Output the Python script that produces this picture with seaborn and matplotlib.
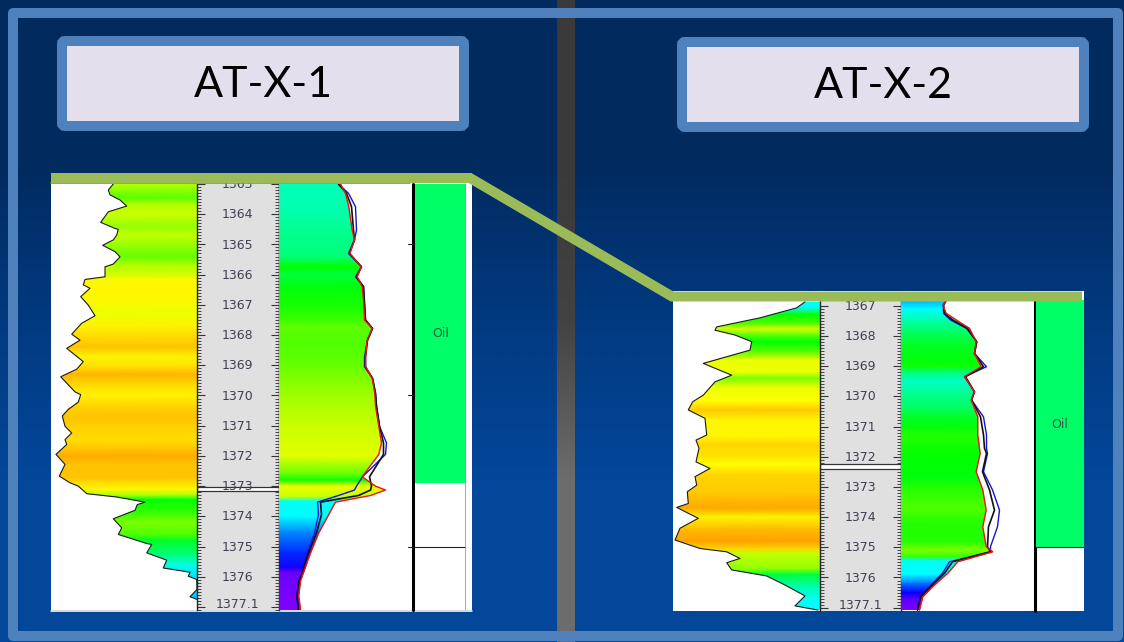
import numpy as np
import matplotlib
matplotlib.use("Agg")
import matplotlib.pyplot as plt
from matplotlib.colors import LinearSegmentedColormap
from matplotlib.patches import Polygon, Rectangle, FancyBboxPatch
import seaborn as sns

W, H = 1124, 642

# ---- AT-X-1, left curve
w1_gr_depth = [1363.0, 1363.2, 1363.36, 1363.53, 1363.73, 1363.92, 1364.27, 1364.47, 1364.5, 1364.69, 1364.85,
               1365.03, 1365.24, 1365.41, 1365.65, 1365.74, 1366.07, 1366.16, 1366.34, 1366.45, 1366.73, 1367.01,
               1367.36, 1367.61, 1367.97, 1368.17, 1368.44, 1368.88, 1369.13, 1369.38, 1369.88, 1369.97, 1370.22,
               1370.46, 1370.68, 1371.02, 1371.24, 1371.46, 1371.62, 1371.95, 1372.28, 1372.67, 1372.89, 1373.0,
               1373.25, 1373.36, 1373.53, 1373.61, 1373.8, 1374.08, 1374.38, 1374.6, 1374.9, 1374.93, 1375.21,
               1375.45, 1375.71, 1375.85, 1375.98, 1376.09, 1376.42, 1376.66, 1376.75]
w1_gr = [62.3, 57.3, 59, 69, 75.7, 57.3, 49.7, 64, 67.3, 65.7, 62.3,
         51.7, 64, 69, 62.3, 54, 54, 34, 32.3, 39, 29.7, 37.3,
         44, 30.7, 20.7, 29, 15.7, 32.3, 25.7, 9.7, 24, 29.7, 27.3,
         17.3, 11.3, 14, 20.7, 14, 15.7, 5, 14, 8.3, 19, 27.3,
         35.7, 65.7, 94, 86.3, 84, 62.3, 70.7, 67.3, 95.7, 100.7, 95.7,
         115.7, 112.3, 139, 137.3, 145.7, 146, 139, 146]
w1_gr_band_depth = [1363, 1363.45, 1363.7, 1364.0, 1364.4, 1364.7, 1365.4, 1365.7, 1366.05, 1366.15, 1366.8, 1367.3,
                    1367.7, 1368.0, 1368.4, 1368.7, 1369.0, 1369.3, 1369.6, 1370.0, 1370.4, 1370.7, 1371.2, 1371.5,
                    1372.0, 1372.3, 1372.7, 1373.1, 1373.3, 1373.45, 1373.9, 1374.2, 1374.6, 1374.8, 1375.3, 1375.6,
                    1376.0, 1376.7, 1377.1]
w1_gr_band = [.71, .63, .71, .73, .68, .72, .64, .71, .74, .79, .79, .76,
              .80, .83, .87, .80, .82, .89, .84, .80, .85, .87, .84, .83,
              .91, .87, .87, .79, .70, .55, .60, .66, .62, .52, .45, .34,
              .28, .26, .26]

# ---- AT-X-1, right curves
w1_res_depth = [1363.0, 1363.31, 1363.75, 1364.52, 1364.85, 1365.3, 1365.74, 1366.07, 1366.4, 1366.95, 1367.5,
                1367.78, 1368.17, 1368.72, 1369.05, 1369.43, 1369.93, 1370.35, 1371.02, 1371.57, 1371.95, 1372.69,
                1373.0, 1373.13, 1373.31, 1373.53, 1373.94, 1374.55, 1375.21, 1375.76, 1376.15, 1376.64, 1377.09]
w1_red = [62, 67, 70.3, 73.7, 76, 71.3, 82.7, 78.7, 83.7, 85.3, 86,
          93.7, 88.7, 87, 87, 93.7, 96.3, 97, 100.3, 103, 100.3, 83.7,
          97, 107, 92, 57, 50.3, 40.3, 32, 26, 22, 20.3, 22]
w1_black = [60, 68, 73, 75, 76, 71, 83, 78, 85, 86, 87,
            94, 89, 87, 87, 94, 97, 98, 101, 105, 105, 91,
            93, 92, 80, 42, 43, 38, 30, 25, 20.5, 18.5, 20]
w1_blue = [60, 70, 77, 78, 76, 70, 83, 77, 85, 86, 87,
           94, 89, 86, 86, 94, 97, 98, 101, 108, 107, 84,
           78, 76, 60, 39, 40, 36, 29, 24.5, 20, 18, 20]
w1_res_band_depth = [1363, 1364, 1364.5, 1365.4, 1365.74, 1366.0, 1366.4, 1367.0, 1367.5, 1367.7, 1368.3, 1369.0,
                     1370.0, 1371.0, 1372.0, 1372.6, 1372.8, 1373.0, 1373.35, 1373.5, 1374.0, 1374.5, 1375.2,
                     1375.7, 1375.85, 1377.1]
w1_res_band = [.40, .42, .44, .46, .55, .50, .54, .57, .60, .63, .62, .64,
               .69, .73, .75, .64, .56, .76, .73, .32, .30, .22, .15,
               .10, .02, 0]

# ---- AT-X-2, left curve
w2_gr_depth = [1366.87, 1367.07, 1367.4, 1367.7, 1367.81, 1367.97, 1368.19, 1368.47, 1368.91, 1369.3, 1369.52,
               1369.96, 1370.18, 1370.45, 1370.73, 1371.28, 1371.45, 1371.72, 1372.17, 1372.39, 1372.66, 1372.94,
               1373.16, 1373.55, 1373.68, 1374.04, 1374.37, 1374.76, 1375.04, 1375.15, 1375.37, 1375.51, 1375.75,
               1375.95, 1376.25, 1376.61, 1376.94, 1377.08]
w2_gr = [132, 123.7, 87, 43.7, 42, 62, 78.7, 77, 30.3, 58.7, 42,
         30.3, 19.7, 15.3, 32, 33.7, 23, 26, 23, 37, 22, 23.7,
         14.3, 15.3, 3.7, 25.3, 7, 2, 27, 53.7, 67, 53.7, 58.7,
         93.7, 112, 132, 122, 145]
w2_gr_band_depth = [1366.8, 1367.05, 1367.3, 1367.6, 1367.75, 1368.0, 1368.2, 1368.5, 1368.8, 1369.2, 1369.4, 1369.7,
                    1370.15, 1370.45, 1370.8, 1371.3, 1371.6, 1372.0, 1372.25, 1372.6, 1373.2, 1373.7, 1374.0,
                    1374.4, 1374.8, 1375.05, 1375.2, 1375.7, 1375.9, 1376.3, 1376.7, 1377.1]
w2_gr_band = [.32, .30, .55, .62, .74, .62, .55, .62, .76, .76, .66, .76,
              .78, .86, .79, .79, .84, .82, .78, .84, .86, .92, .80,
              .88, .94, .84, .72, .68, .50, .42, .32, .30]

# ---- AT-X-2, right curves
w2_res_depth = [1366.8, 1366.98, 1367.25, 1367.47, 1367.75, 1368.19, 1368.58, 1369.02, 1369.35, 1369.85, 1370.12,
                1370.68, 1371.28, 1371.72, 1371.89, 1372.5, 1373.1, 1373.77, 1374.32, 1374.98, 1375.15, 1375.48,
                1375.86, 1376.3, 1376.64, 1377.08]
w2_red = [47, 42.3, 45.7, 55.7, 69, 75.7, 74, 80.7, 64, 74, 70.7,
          77.3, 77.3, 79, 79.7, 75.7, 82.3, 85.7, 82.3, 85.7, 92.3, 57.3,
          47.3, 32.3, 22.3, 19]
w2_black = [46, 43, 44, 52, 67, 76, 74, 83, 65, 74, 71,
            80, 83, 84, 86, 82, 89, 94, 88, 87, 90, 52,
            44, 30, 20, 17]
w2_blue = [46, 43, 43, 50, 66, 76.5, 74, 86, 64, 74, 71,
           83, 86, 86, 87, 83, 92, 99, 97, 90, 90, 49,
           42, 29, 20, 17]
w2_res_band_depth = [1366.8, 1367.1, 1367.5, 1367.9, 1368.3, 1368.8, 1369.0, 1369.2, 1369.5, 1369.9, 1370.4, 1370.7,
                     1371.0, 1371.3, 1371.7, 1372.0, 1372.7, 1373.0, 1373.7, 1374.2, 1374.8, 1375.1, 1375.3,
                     1375.45, 1375.9, 1376.2, 1376.5, 1376.7, 1377.1]
w2_res_band = [.24, .30, .42, .48, .52, .54, .56, .46, .38, .44, .48, .52,
               .54, .58, .56, .55, .54, .58, .62, .58, .58, .66, .60,
               .32, .30, .20, .12, .04, 0]

w1_labels = ["1363", "1364", "1365", "1366", "1367", "1368", "1369", "1370", "1371", "1372", "1373", "1374", "1375", "1376"]
w2_labels = ["1367", "1368", "1369", "1370", "1371", "1372", "1373", "1374", "1375", "1376"]

sns.set_theme(style="white")
plt.rcParams["font.family"] = ["DejaVu Sans"]

log_cmap = LinearSegmentedColormap.from_list("log", [
    (0.0, "#8000ff"), (0.12, "#0000ff"), (0.3, "#00ffff"), (0.42, "#00ffaa"), (0.55, "#00ff00"),
    (0.7, "#aaff00"), (0.78, "#ffff00"), (0.9, "#ffb000"), (1.0, "#ff8c00")])


def px_axes(fig, x0, y0, x1, y1, zorder=2):
    ax = fig.add_axes([x0 / W, 1 - y1 / H, (x1 - x0) / W, (y1 - y0) / H], zorder=zorder)
    ax.patch.set_alpha(0)
    return ax


def track(fig, box, ylim, xlim):
    ax = px_axes(fig, *box)
    ax.set_ylim(*ylim)
    ax.set_xlim(*xlim)
    ax.set_xticks([])
    ax.set_yticks([])
    for s in ax.spines.values():
        s.set_visible(False)
    return ax


def filled_band(ax, band_depth, band, x0, x1, curve_x, curve_d, base):
    v = np.column_stack([band, band])
    mesh = ax.pcolormesh([x0, x1], band_depth, v, shading="gouraud", cmap=log_cmap, vmin=0, vmax=1)
    pts = [(base, curve_d[0])] + list(zip(curve_x, curve_d)) + [(base, curve_d[-1])]
    mesh.set_clip_path(Polygon(pts, closed=True, transform=ax.transData))


def curve(ax, x, d, color, lw=0.8):
    sns.lineplot(x=x, y=d, orient="y", sort=False, estimator=None, color=color, linewidth=lw, ax=ax)
    ax.set_xlabel("")
    ax.set_ylabel("")


def draw_well(fig, x, ylim, gr_d, gr, gr_band_d, gr_band, res_d, red, black, blue, res_band_d, res_band,
              labels, sep, oil_bottom, oil_y, last_label_depth, top_px, bottom_px):
    # left curve
    ax = track(fig, (x[0], top_px, x[1], bottom_px), ylim, (0, x[1] - x[0]))
    filled_band(ax, gr_band_d, gr_band, 0, x[1] - x[0], gr, gr_d, x[1] - x[0])
    curve(ax, gr, gr_d, "#1a1a1a")
    ax.set_ylim(*ylim)
    ax.set_xlim(0, x[1] - x[0])

    # depth column
    ax = track(fig, (x[1], top_px, x[2], bottom_px), ylim, (0, 1))
    ax.patch.set_alpha(1)
    ax.patch.set_facecolor("#e0e0e0")
    for side in ["left", "right"]:
        ax.spines[side].set_visible(True)
        ax.spines[side].set_color("#222222")
        ax.spines[side].set_linewidth(1.0)
    first = int(np.ceil(ylim[1]))
    last = int(np.floor(ylim[0]))
    ax.set_yticks(np.arange(first, last + 1))
    ax.set_yticks(np.arange(first, last + 0.95, 0.1), minor=True)
    ax.tick_params(axis="y", which="major", direction="in", left=True, right=True, length=5.5, width=0.8,
                   color="#333333", labelleft=False)
    ax.tick_params(axis="y", which="minor", direction="in", left=True, right=True, length=2.6, width=0.7,
                   color="#444444", labelleft=False)
    for lab in labels:
        ax.text(0.5, float(lab) + 0.02, lab, ha="center", va="center", fontsize=9, color="#3f3f55")
    ax.text(0.5, last_label_depth, "1377.1", ha="center", va="center", fontsize=9, color="#3f3f55")
    ax.axhspan(sep[0], sep[1], facecolor="white", edgecolor="#333333", linewidth=0.9)
    ax.set_ylim(*ylim)

    # right curves
    width = x[3] - x[2]
    ax = track(fig, (x[2], top_px, x[3], bottom_px), ylim, (0, width))
    filled_band(ax, res_band_d, res_band, 0, width, red, res_d, 0)
    curve(ax, blue, res_d, "#1414d8", 1.0)
    curve(ax, black, res_d, "#111111", 1.2)
    curve(ax, red, res_d, "#ee1111", 1.0)
    ax.set_ylim(*ylim)
    ax.set_xlim(0, width)
    ax.axvline(width, color="black", linewidth=2.2, clip_on=False)

    # oil column
    ax = track(fig, (x[4], top_px, x[5], bottom_px), ylim, (0, 1))
    ax.axhspan(ylim[1], oil_bottom, color="#00ff66", linewidth=0)
    ax.text(0.5, oil_y, "Oil", ha="center", va="center", fontsize=9, color="#2c5f40")
    ax.set_ylim(*ylim)
    ax.set_xlim(0, 1)
    return ax


fig = plt.figure(figsize=(W / 100, H / 100), dpi=100)

# background in pixel coordinates
bg = px_axes(fig, 0, 0, W, H, zorder=0)
bg.patch.set_alpha(1)
bg.axis("off")
sky = LinearSegmentedColormap.from_list("sky", ["#012a5e", "#023a80", "#03479a"])
bg.imshow([[0], [1]], extent=(0, W, H, 0), aspect="auto", cmap=sky, interpolation="bilinear", zorder=0)
bar = LinearSegmentedColormap.from_list("bar", ["#3a3a3a", "#424242", "#6c6c6c"])
bg.imshow([[0], [1]], extent=(557, 575, H, 0), aspect="auto", cmap=bar, interpolation="bilinear", zorder=1)
bg.set_xlim(0, W)
bg.set_ylim(H, 0)
bg.add_patch(Rectangle((13, 13), 1105, 623, fill=False, edgecolor="#4f81bd", linewidth=7.2, joinstyle="round", zorder=2))

for box_x, box_y, name in [(57, 36, "AT-X-1"), (677, 37, "AT-X-2")]:
    bg.add_patch(FancyBboxPatch((box_x + 5, box_y + 5), 402, 85, boxstyle="round,pad=0,rounding_size=3",
                                facecolor="#e4dfec", edgecolor="#4f81bd", linewidth=7.2, zorder=3))
    bg.text(box_x + 206, box_y + 49, name, ha="center", va="center", fontsize=31, family="Lato", color="black", zorder=4)

# white log sheets
bg.add_patch(Rectangle((51, 173), 421, 439, facecolor="white", edgecolor="none", zorder=3))
bg.add_patch(Rectangle((673, 291), 411, 320, facecolor="white", edgecolor="none", zorder=3))
bg.plot([51, 472], [611, 611], color="#cfcfcf", linewidth=1.2, zorder=3)

oil1 = draw_well(fig, (51, 197, 278.5, 413, 414.5, 466), (1377.1, 1363.0), w1_gr_depth, w1_gr, w1_gr_band_depth, w1_gr_band,
                 w1_res_depth, w1_red, w1_black, w1_blue, w1_res_band_depth, w1_res_band,
                 w1_labels, (1373.02, 1373.16), 1372.9, 1367.95, 1376.92, 184, 610)
oil1.axhline(1375, color="#222222", linewidth=0.8)
oil1.axvline(1, color="#999999", linewidth=1.2)
for depth in [1365, 1370, 1375]:
    oil1.plot([-0.12, -0.03], [depth, depth], color="#222222", linewidth=0.8, clip_on=False)

oil2 = draw_well(fig, (673, 820, 900.5, 1034.5, 1036, 1084), (1377.11, 1366.81), w2_gr_depth, w2_gr, w2_gr_band_depth, w2_gr_band,
                 w2_res_depth, w2_red, w2_black, w2_blue, w2_res_band_depth, w2_res_band,
                 w2_labels, (1372.25, 1372.41), 1375.0, 1370.92, 1376.92, 300, 611)
oil2.axhline(1375, xmin=0, xmax=1, color="#222222", linewidth=0.8)

# marker line tying the two wells together
top = px_axes(fig, 0, 0, W, H, zorder=5)
top.axis("off")
top.set_xlim(0, W)
top.set_ylim(H, 0)
top.plot([51, 410], [183, 183], color="#22cc22", linewidth=1.2)
top.plot([51, 470, 672, 1082], [178, 178, 296.5, 296.5], color="#9bbb59", linewidth=7.2,
         solid_joinstyle="miter", solid_capstyle="butt")

fig.savefig("out.png", dpi=100)
plt.close(fig)
